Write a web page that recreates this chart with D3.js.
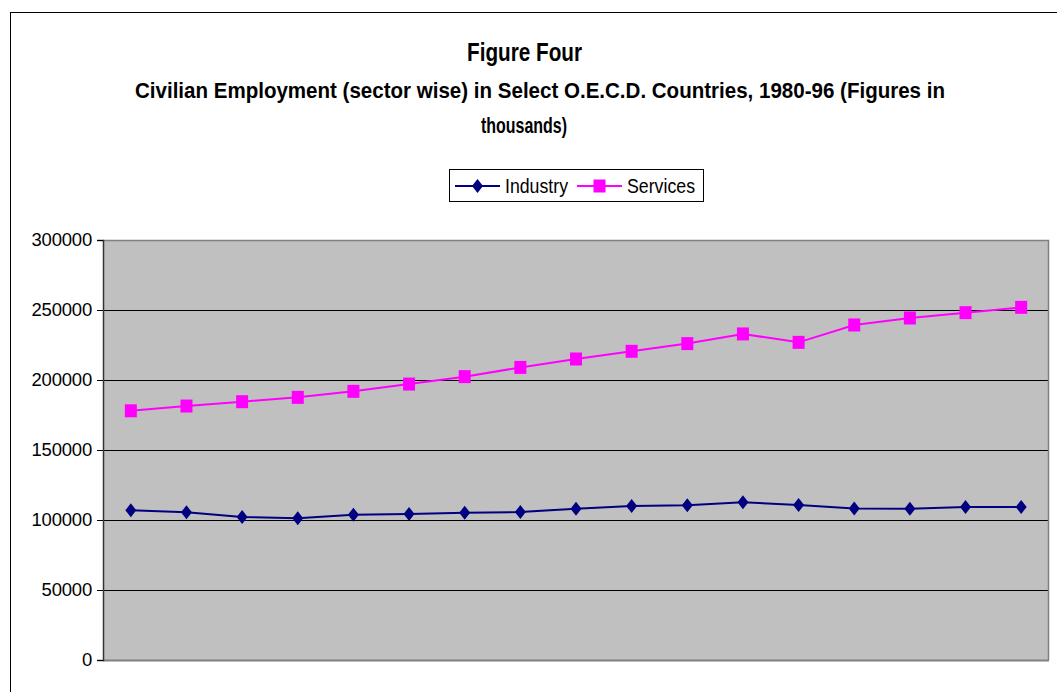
<!DOCTYPE html>
<html>
<head>
<meta charset="utf-8">
<script src="https://cdn.jsdelivr.net/npm/d3@7"></script>
<style>
  html, body { margin: 0; padding: 0; background: #fff; }
  svg { display: block; font-family: "Liberation Sans", Arial, sans-serif; }
</style>
</head>
<body>
<svg id="chart" width="1057" height="692"></svg>
<script>
// Civilian employment by sector, selected OECD countries, 1980-96 (thousands)
const years = d3.range(1980, 1997);
const industry = [106900, 105500, 102100, 101200, 103800, 104300, 105200, 105700, 108100,
                  110000, 110500, 112600, 110700, 108300, 108100, 109300, 109300];
const services = [178000, 181400, 184500, 187600, 191900, 197100, 202400, 209000, 215000,
                  220500, 226000, 232900, 226900, 239300, 244300, 248100, 251900];
const yTicks = [0, 50000, 100000, 150000, 200000, 250000, 300000];
const seriesNames = ["Industry", "Services"];

const titleText = "Figure Four";
const subtitleLines = ["Civilian Employment (sector wise) in Select O.E.C.D. Countries, 1980-96 (Figures  in", "thousands)"];

const svg = d3.select("#chart");

// chart frame (extends past the window on the right and bottom)
svg.append("rect")
  .attr("x", 10.5).attr("y", 12.5)
  .attr("width", 1200).attr("height", 800)
  .attr("fill", "#fff").attr("stroke", "#000").attr("stroke-width", 1);

const plot = { left: 103, right: 1049, top: 240, bottom: 660 };

const x = d3.scaleBand().domain(years).range([plot.left, plot.right]);
const cx = d => x(d) + x.bandwidth() / 2;
const y = d3.scaleLinear().domain([0, 300000]).range([plot.bottom, plot.top]);

// plot background
svg.append("rect")
  .attr("x", plot.left).attr("y", plot.top)
  .attr("width", plot.right - plot.left).attr("height", plot.bottom - plot.top)
  .attr("fill", "#c0c0c0");

// horizontal gridlines
svg.append("g").selectAll("line")
  .data(yTicks.filter(t => t > 0 && t < 300000))
  .join("line")
  .attr("x1", plot.left).attr("x2", plot.right)
  .attr("y1", d => Math.round(y(d)) + 0.5).attr("y2", d => Math.round(y(d)) + 0.5)
  .attr("stroke", "#000").attr("stroke-width", 1);

// plot border (top / right / bottom in grey)
svg.append("path")
  .attr("d", `M${plot.left},${plot.top + 0.5}H${plot.right - 0.5}V${plot.bottom}`)
  .attr("fill", "none").attr("stroke", "#808080").attr("stroke-width", 1.5);
svg.append("line")
  .attr("x1", plot.left).attr("x2", plot.right)
  .attr("y1", plot.bottom + 0.5).attr("y2", plot.bottom + 0.5)
  .attr("stroke", "#808080").attr("stroke-width", 2);

// y axis
const yAxis = d3.axisLeft(y).tickValues(yTicks).tickFormat(d3.format("d")).tickSize(6).tickPadding(5);
const gy = svg.append("g").attr("transform", `translate(${plot.left},0)`).call(yAxis);
gy.select(".domain").attr("stroke", "#333").attr("stroke-width", 1.5);
gy.selectAll(".tick line").attr("stroke", "#000");
gy.selectAll(".tick text")
  .attr("font-size", 18.5).attr("fill", "#000")
  .attr("font-family", "'Liberation Sans', Arial, sans-serif")
  .attr("letter-spacing", "-0.2");

// series
const series = [
  { name: seriesNames[0], values: industry, color: "#000080", marker: "diamond" },
  { name: seriesNames[1], values: services, color: "#ff00ff", marker: "square" }
];

const line = d3.line().x(d => cx(d.year)).y(d => y(d.value));

function drawMarker(sel, type, color) {
  if (type === "diamond") {
    sel.append("path").attr("d", "M0,-7L5.5,0L0,7L-5.5,0Z").attr("fill", color);
  } else {
    sel.append("rect").attr("x", -6).attr("y", -6.5).attr("width", 12).attr("height", 13).attr("fill", color);
  }
}

series.forEach(s => {
  const pts = years.map((yr, i) => ({ year: yr, value: s.values[i] }));
  svg.append("path").datum(pts)
    .attr("d", line)
    .attr("fill", "none").attr("stroke", s.color).attr("stroke-width", 2);
  svg.append("g").selectAll("g")
    .data(pts).join("g")
    .attr("transform", d => `translate(${cx(d.year)},${y(d.value)})`)
    .each(function () { drawMarker(d3.select(this), s.marker, s.color); });
});

// titles
svg.append("text")
  .attr("x", 467).attr("y", 61)
  .attr("font-size", 26).attr("font-weight", "bold")
  .attr("textLength", 115).attr("lengthAdjust", "spacingAndGlyphs")
  .text(titleText);

svg.append("text")
  .attr("x", 135).attr("y", 98)
  .attr("font-size", 21.5).attr("font-weight", "bold")
  .attr("textLength", 810).attr("lengthAdjust", "spacingAndGlyphs")
  .text(subtitleLines[0]);
svg.append("text")
  .attr("x", 481).attr("y", 133)
  .attr("font-size", 21.5).attr("font-weight", "bold")
  .attr("textLength", 86).attr("lengthAdjust", "spacingAndGlyphs")
  .text(subtitleLines[1]);

// legend
const legend = svg.append("g");
legend.append("rect")
  .attr("x", 449.5).attr("y", 169.5).attr("width", 254).attr("height", 32)
  .attr("fill", "#fff").attr("stroke", "#000").attr("stroke-width", 1);
const legendItems = [
  { s: series[0], x0: 455, text: 505, w: 63 },
  { s: series[1], x0: 577, text: 627, w: 68 }
];
legendItems.forEach(it => {
  const g = legend.append("g");
  g.append("line")
    .attr("x1", it.x0).attr("x2", it.x0 + 45)
    .attr("y1", 186).attr("y2", 186)
    .attr("stroke", it.s.color).attr("stroke-width", 2);
  const m = g.append("g").attr("transform", `translate(${it.x0 + 22.5},186)`);
  drawMarker(m, it.s.marker, it.s.color);
  g.append("text")
    .attr("x", it.text).attr("y", 193)
    .attr("font-size", 19.5)
    .attr("textLength", it.w).attr("lengthAdjust", "spacingAndGlyphs")
    .text(it.s.name);
});
</script>
</body>
</html>
